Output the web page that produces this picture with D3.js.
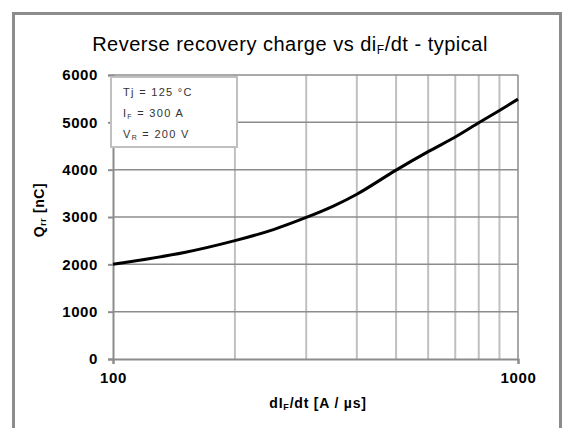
<!DOCTYPE html>
<html><head><meta charset="utf-8">
<script src="https://cdn.jsdelivr.net/npm/d3@7"></script>
<style>
body{margin:0;background:#fff;}
svg{display:block;font-family:"Liberation Sans",Arial,sans-serif;}
</style></head>
<body>
<svg id="c" width="563" height="428"></svg>
<script>
const diF = [100,150,200,250,300,350,400,500,600,700,800,900,1000];
const qrr = [2000,2250,2500,2740,2990,3230,3480,3990,4380,4690,4990,5250,5490];
const yTicks = [0,1000,2000,3000,4000,5000,6000];
const xTickLabels = [100,1000];
const xGrid = [200,300,400,500,600,700,800,900];
const legendLines = [
  {main:"T", sub:"j", rest:" = 125 °C", subInline:true},
  {main:"I", sub:"F", rest:" = 300 A"},
  {main:"V", sub:"R", rest:" = 200 V"}
];

const svg = d3.select("#c");
const L=113,R=518,T=75,B=359;
const x = d3.scaleLog().domain([100,1000]).range([L,R]);
const y = d3.scaleLinear().domain([0,6000]).range([B,T]);

// outer frame
svg.append("rect").attr("x",13.5).attr("y",13.5).attr("width",547).attr("height",430)
  .attr("fill","none").attr("stroke","#8c8c8c").attr("stroke-width",3);

// title
const title = svg.append("text").attr("x",290).attr("y",51).attr("text-anchor","middle")
  .attr("font-size",20).attr("letter-spacing",0.5).attr("fill","#000");
title.append("tspan").text("Reverse recovery charge vs di");
title.append("tspan").attr("font-size",12).attr("dy",3).text("F");
title.append("tspan").attr("dy",-3).text("/dt - typical");

// vertical grid
svg.append("g").selectAll("line").data(xGrid).join("line")
  .attr("x1",d=>x(d)).attr("x2",d=>x(d)).attr("y1",T).attr("y2",B)
  .attr("stroke","#c0c0c0").attr("stroke-width",2);
// right border
svg.append("line").attr("x1",R).attr("x2",R).attr("y1",T).attr("y2",B)
  .attr("stroke","#a8a8a8").attr("stroke-width",2);
// horizontal grid
svg.append("g").selectAll("line").data(yTicks.filter(d=>d>0)).join("line")
  .attr("x1",L).attr("x2",R).attr("y1",d=>y(d)).attr("y2",d=>y(d))
  .attr("stroke","#8c8c8c").attr("stroke-width",1.5);

// y axis
const ya = svg.append("g").attr("transform",`translate(${L},0)`)
  .call(d3.axisLeft(y).tickValues(yTicks).tickSize(5).tickPadding(10).tickFormat(d3.format("d")));
ya.select(".domain").attr("stroke","#8c8c8c").attr("stroke-width",2);
ya.selectAll(".tick line").attr("stroke","#8c8c8c").attr("stroke-width",2);
ya.selectAll(".tick text").attr("font-size",15).attr("font-weight","bold")
  .attr("letter-spacing",0.6).attr("fill","#000").attr("font-family","Liberation Sans, Arial, sans-serif");

// x axis
const xa = svg.append("g").attr("transform",`translate(0,${B})`)
  .call(d3.axisBottom(x).tickValues(xTickLabels).tickSize(5).tickPadding(8).tickFormat(d3.format("d")));
xa.select(".domain").attr("stroke","#8c8c8c").attr("stroke-width",2);
xa.selectAll(".tick line").attr("stroke","#8c8c8c").attr("stroke-width",2);
xa.selectAll(".tick text").attr("font-size",15).attr("font-weight","bold")
  .attr("letter-spacing",0.6).attr("fill","#000").attr("font-family","Liberation Sans, Arial, sans-serif");

// curve
const line = d3.line().x(d=>x(d[0])).y(d=>y(d[1])).curve(d3.curveCatmullRom.alpha(0.5));
svg.append("path").datum(diF.map((d,i)=>[d,qrr[i]])).attr("d",line)
  .attr("fill","none").attr("stroke","#000").attr("stroke-width",3);

// legend box
svg.append("rect").attr("x",111).attr("y",77).attr("width",126).attr("height",70)
  .attr("fill","#fff").attr("stroke","#c0c0c0").attr("stroke-width",2);
const ly=[96,117,138];
legendLines.forEach((l,i)=>{
  const t = svg.append("text").attr("x",123).attr("y",ly[i]).attr("font-size",11)
    .attr("letter-spacing",1.3).attr("fill","#333");
  t.append("tspan").text(l.main);
  if(l.subInline){ t.append("tspan").text(l.sub); }
  else { t.append("tspan").attr("font-size",7).attr("dy",2).text(l.sub); }
  t.append("tspan").attr("dy",l.subInline?0:-2).text(l.rest);
});

// x axis title
const xt = svg.append("text").attr("x",318).attr("y",408).attr("text-anchor","middle")
  .attr("font-size",14).attr("font-weight","bold").attr("letter-spacing",0.8).attr("fill","#000");
xt.append("tspan").text("dI");
xt.append("tspan").attr("font-size",9).attr("dy",2).text("F");
xt.append("tspan").attr("dy",-2).text("/dt [A / µs]");

// y axis title
const yt = svg.append("text").attr("transform","translate(44,210) rotate(-90)").attr("text-anchor","middle")
  .attr("font-size",14).attr("font-weight","bold").attr("letter-spacing",0.6).attr("fill","#000");
yt.append("tspan").text("Q");
yt.append("tspan").attr("font-size",9).attr("dy",2).text("rr");
yt.append("tspan").attr("dy",-2).text(" [nC]");
</script>
</body></html>
